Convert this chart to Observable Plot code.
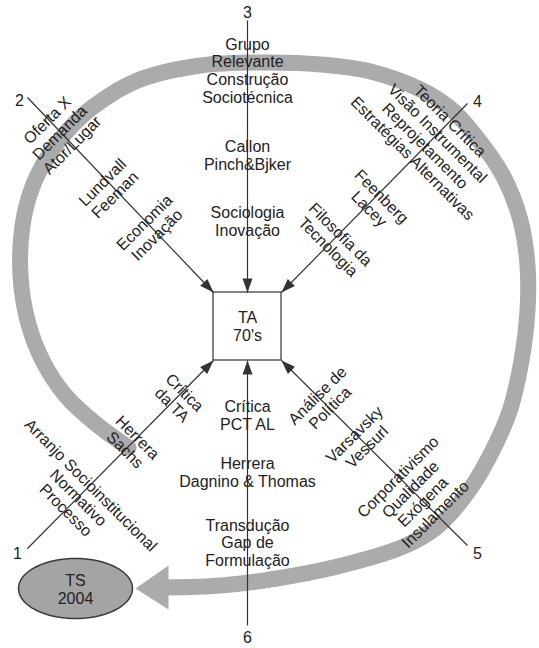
<!DOCTYPE html>
<html>
<head>
<meta charset="utf-8">
<script src="https://cdn.jsdelivr.net/npm/d3@7"></script>
<script src="https://cdn.jsdelivr.net/npm/@observablehq/plot@0.6"></script>
<style>
  html, body { margin: 0; padding: 0; background: #fff; }
  #chart { width: 539px; height: 648px; }
</style>
</head>
<body>
<div id="chart"></div>
<script>
// ---- Diagram data (positions, in pixel units) ----
const W = 539, H = 648;

// Spokes: id, outer end, inner end (arrow tip at the central box), number label
const spokeIds = ["1", "2", "3", "4", "5", "6"];
const spokeOuter = [[27, 548], [27, 97], [247, 20], [467, 103], [467, 545], [247, 625]];
const spokeInner = [[213, 360], [213, 292], [247, 292], [281, 292], [281, 360], [247, 360]];
const spokeLabelPos = [[17, 553], [19, 100], [247, 12], [477, 101], [477, 553], [247, 637]];

// Central box
const boxCorners = [[213, 292], [281, 360]];

// Gray cycle band (centreline) ending in an arrow toward "TS 2004"
const bandPath = [
  [128, 447], [95, 423], [65, 395], [42, 360], [27, 320], [20, 275], [22, 225],
  [32, 186], [48, 155], [68, 129], [93, 106], [137, 80], [200, 65], [267, 62],
  [320, 64], [370, 71], [420, 89], [450, 108], [474, 134], [503, 176], [520, 220],
  [527, 265], [527, 310], [521, 360], [510, 408], [496, 442], [470, 488], [437, 526],
  [403, 546], [337, 566], [270, 579], [220, 585], [166, 587]
];
const bandHead = [[168, 565], [135, 588], [168, 609]];

// "TS 2004" ellipse parameters
const tsEllipse = { cx: 75, cy: 588, rx: 57, ry: 30 };

// Text blocks: text, centre, rotation (degrees)
const blockText = [
  "Grupo\nRelevante\nConstrução\nSociotécnica", "Callon\nPinch&Bjker", "Sociologia\nInovação",
  "Oferta X\nDemanda\nAtor/Lugar", "Lundvall\nFeeman", "Economia\nInovação",
  "Teoria Crítica\nVisão Instrumental\nReprojetamento\nEstratégias Alternativas", "Feenberg\nLacey", "Filosofia da\nTecnologia",
  "Crítica\nda TA", "Herrera\nSachs", "Arranjo Socioinstitucional\nNormativo\nProcesso",
  "Análise de\nPolítica", "Varsavsky\nVessurl", "Corporativismo\nQualidade\nExógena\nInsulamento",
  "Crítica\nPCT AL", "Herrera\nDagnino & Thomas", "Transdução\nGap de\nFormulação",
  "TA\n70's", "TS\n2004"
];
const blockPos = [
  [247, 70], [247, 155], [247, 221],
  [59, 132], [108, 188], [150, 228],
  [431, 139], [375, 202], [334, 240],
  [178, 398], [131, 443], [78, 497],
  [323, 401], [360, 440], [416, 495],
  [247, 415], [247, 472], [247, 542],
  [247, 326], [75, 589]
];
const blockRotate = [
  0, 0, 0,
  -45, -45, -45,
  45, 45, 45,
  45, 45, 45,
  -45, -45, -45,
  0, 0, 0,
  0, 0
];

// ---- Build tables for the marks ----
const spokes = spokeIds.map((id, i) => ({
  id, x1: spokeOuter[i][0], y1: spokeOuter[i][1], x2: spokeInner[i][0], y2: spokeInner[i][1]
}));
const headLen = 14, headHalf = 5;
const spokeHeads = spokes.flatMap(s => {
  const dx = s.x2 - s.x1, dy = s.y2 - s.y1, L = Math.hypot(dx, dy);
  const ux = dx / L, uy = dy / L, nx = -uy, ny = ux;
  const bx = s.x2 - headLen * ux, by = s.y2 - headLen * uy;
  return [
    { id: s.id, x: s.x2, y: s.y2 },
    { id: s.id, x: bx + headHalf * nx, y: by + headHalf * ny },
    { id: s.id, x: bx - headHalf * nx, y: by - headHalf * ny }
  ];
});
const numberLabels = spokeIds.map((id, i) => ({ text: id, x: spokeLabelPos[i][0], y: spokeLabelPos[i][1] }));
const blocks = blockText.map((t, i) => ({ text: t, x: blockPos[i][0], y: blockPos[i][1], rotate: blockRotate[i] }));
const band = bandPath.map(([x, y]) => ({ x, y }));
const head = bandHead.map(([x, y]) => ({ x, y }));
const ellipse = d3.range(0, 361, 5).map(a => ({
  x: tsEllipse.cx + tsEllipse.rx * Math.cos(a * Math.PI / 180),
  y: tsEllipse.cy + tsEllipse.ry * Math.sin(a * Math.PI / 180)
}));
const box = [{ x1: boxCorners[0][0], y1: boxCorners[0][1], x2: boxCorners[1][0], y2: boxCorners[1][1] }];

const font = "'Liberation Sans', Arial, Helvetica, sans-serif";

const chart = Plot.plot({
  width: W, height: H, margin: 0,
  x: { domain: [0, W], range: [0, W], axis: null },
  y: { domain: [0, H], range: [0, H], axis: null },
  style: { background: "#fff", fontFamily: font },
  marks: [
    Plot.line(band, { x: "x", y: "y", stroke: "#ababab", strokeWidth: 16, curve: "catmull-rom", strokeLinecap: "round" }),
    Plot.line(head, { x: "x", y: "y", fill: "#ababab", stroke: "none" }),
    Plot.line(ellipse, { x: "x", y: "y", fill: "#a4a4a4", stroke: "#3a3a3a", strokeWidth: 1.5 }),
    Plot.link(spokes, { x1: "x1", y1: "y1", x2: "x2", y2: "y2", stroke: "#333", strokeWidth: 1.2 }),
    Plot.line(spokeHeads, { x: "x", y: "y", z: "id", fill: "#333", stroke: "none" }),
    Plot.rect(box, { x1: "x1", y1: "y1", x2: "x2", y2: "y2", fill: "none", stroke: "#333", strokeWidth: 1.2 }),
    Plot.text(blocks, { x: "x", y: "y", text: "text", rotate: "rotate", fontSize: 16, lineHeight: 1.1, fill: "#222" }),
    Plot.text(numberLabels, { x: "x", y: "y", text: "text", fontSize: 16, fill: "#222" })
  ]
});
document.getElementById("chart").appendChild(chart);
</script>
</body>
</html>
